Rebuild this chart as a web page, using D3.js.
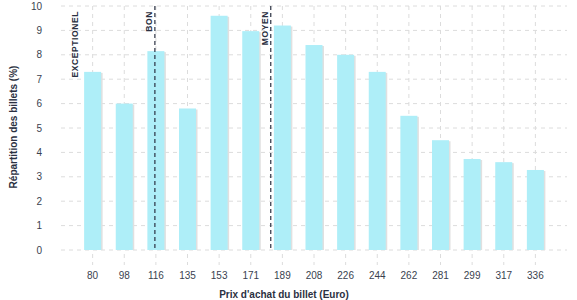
<!DOCTYPE html>
<meta charset="utf-8">
<script src="https://d3js.org/d3.v7.min.js"></script>
<style>
  body { margin: 0; background: #fff; }
  text { font-family: "Liberation Sans", Arial, sans-serif; }
</style>
<div id="chart"></div>
<script>

// data
const prices = ["80", "98", "116", "135", "153", "171", "189", "208", "226", "244", "262", "281", "299", "317", "336"];
const shares = [7.3, 6.0, 8.15, 5.8, 9.6, 8.97, 9.2, 8.4, 8.0, 7.3, 5.5, 4.5, 3.73, 3.6, 3.28];
const yTicks = [0, 1, 2, 3, 4, 5, 6, 7, 8, 9, 10];
// reference markers (price in euro)
const markerNames = ["EXCEPTIONEL", "BON", "MOYEN"];
const markerPrices = [73, 116, 183];
const markerLines = [false, true, true];

const W = 577, H = 300;
const margin = {top: 6, right: 10, bottom: 50, left: 61};
const width = W - margin.left - margin.right,
      height = 250 - margin.top;

const svg = d3.select("#chart")
  .append("svg")
    .attr("width", W)
    .attr("height", H);

const g = svg.append("g")
    .attr("transform", `translate(${margin.left}, ${margin.top})`);

const x = d3.scalePoint()
  .domain(prices)
  .range([0, width])
  .padding(1);

const y = d3.scaleLinear()
  .domain([0, 10])
  .range([height, 0]);

// linear price scale for the marker lines
const xp = d3.scaleLinear()
  .domain([+prices[0], +prices[prices.length - 1]])
  .range([x(prices[0]), x(prices[prices.length - 1])]);

const gridColor = "#dcdcdc";

// horizontal grid
g.append("g")
  .selectAll("line")
  .data(yTicks)
  .join("line")
    .attr("x1", 0)
    .attr("x2", width)
    .attr("y1", d => y(d))
    .attr("y2", d => y(d))
    .attr("stroke", gridColor)
    .attr("stroke-dasharray", "4,4");

// vertical grid (continues below the axis as ticks)
g.append("g")
  .selectAll("line")
  .data(prices)
  .join("line")
    .attr("x1", d => x(d))
    .attr("x2", d => x(d))
    .attr("y1", 0)
    .attr("y2", height + 15)
    .attr("stroke", gridColor)
    .attr("stroke-dasharray", "4,4");

const bw = 17;

// bar shadows
g.append("g")
  .selectAll("rect")
  .data(shares)
  .join("rect")
    .attr("x", (d, i) => x(prices[i]) - bw / 2 + 1.5)
    .attr("y", d => y(d) + 1)
    .attr("width", bw)
    .attr("height", d => height - y(d) - 1)
    .attr("fill", "#e0e0e0");

// bars
g.append("g")
  .selectAll("rect")
  .data(shares)
  .join("rect")
    .attr("x", (d, i) => x(prices[i]) - bw / 2)
    .attr("y", d => y(d))
    .attr("width", bw)
    .attr("height", d => height - y(d))
    .attr("fill", "#aeeef8");

// y tick labels
g.append("g")
  .selectAll("text")
  .data(yTicks)
  .join("text")
    .attr("x", -19)
    .attr("y", d => y(d))
    .attr("dy", "0.35em")
    .attr("text-anchor", "end")
    .attr("font-size", 10)
    .attr("fill", "#3a3f4f")
    .text(d => d);

// x tick labels
g.append("g")
  .selectAll("text")
  .data(prices)
  .join("text")
    .attr("x", d => x(d))
    .attr("y", height + 29)
    .attr("text-anchor", "middle")
    .attr("font-size", 10)
    .attr("fill", "#3a3f4f")
    .text(d => d);

// marker lines and labels
const markers = markerNames.map((n, i) => ({name: n, price: markerPrices[i], line: markerLines[i]}));

g.append("g")
  .selectAll("line")
  .data(markers.filter(d => d.line))
  .join("line")
    .attr("x1", d => xp(d.price))
    .attr("x2", d => xp(d.price))
    .attr("y1", 0)
    .attr("y2", height)
    .attr("stroke", "#2b3142")
    .attr("stroke-width", 1.2)
    .attr("stroke-dasharray", "4,3");

g.append("g")
  .selectAll("text")
  .data(markers)
  .join("text")
    .attr("transform", d => `translate(${xp(d.price) - 3}, 5) rotate(-90)`)
    .attr("text-anchor", "end")
    .attr("font-size", 8.5)
    .attr("font-weight", "bold")
    .attr("letter-spacing", 0.6)
    .attr("fill", "#2b3142")
    .text(d => d.name);

// axis titles
svg.append("text")
  .attr("x", 284)
  .attr("y", 298)
  .attr("text-anchor", "middle")
  .attr("font-size", 10)
  .attr("font-weight", "bold")
  .attr("fill", "#2b3142")
  .text("Prix d'achat du billet (Euro)");

svg.append("text")
  .attr("transform", "translate(17, 127) rotate(-90)")
  .attr("text-anchor", "middle")
  .attr("font-size", 10)
  .attr("font-weight", "bold")
  .attr("fill", "#2b3142")
  .text("Répartition des billets (%)");

</script>
